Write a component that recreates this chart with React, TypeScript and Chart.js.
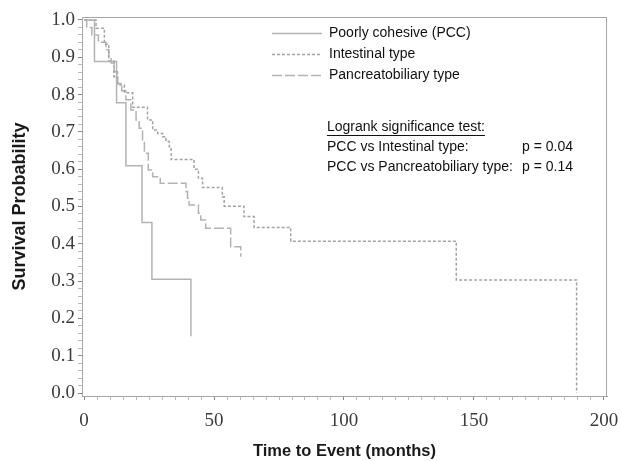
import React, { useEffect, useRef } from "react";
import { Chart, registerables } from "chart.js";

Chart.register(...registerables);

// ---- Data ----
const pccTime = [0, 4, 12.5, 16.1, 22.3, 26.1, 41.1];
const pccSurv = [1, 0.889, 0.778, 0.609, 0.457, 0.305, 0.152];

const intTime = [0, 4.6, 7.8, 9.5, 11.5, 12.9, 15.5, 18.7, 24.4, 26.4, 28.3, 30.2, 31.5, 32.8, 33.5, 42.3, 44.0, 45.6, 53.2, 53.9, 61.5, 65.4, 79.5, 143.2, 189.5];
const intSurv = [1, 0.978, 0.935, 0.89, 0.848, 0.826, 0.805, 0.766, 0.732, 0.705, 0.696, 0.687, 0.674, 0.66, 0.626, 0.6, 0.576, 0.551, 0.526, 0.501, 0.473, 0.444, 0.407, 0.303, 0];

const panTime = [0, 1, 3, 5.5, 8.4, 9.5, 10.4, 11.6, 12.9, 14.5, 16.1, 18, 20, 21.2, 22.5, 23.2, 24.7, 26.4, 29.3, 39.2, 39.8, 40.4, 44.0, 44.9, 46.8, 56.4, 60.3];
const panSurv = [1, 0.98, 0.96, 0.94, 0.92, 0.9, 0.885, 0.861, 0.83, 0.81, 0.786, 0.759, 0.732, 0.71, 0.678, 0.643, 0.598, 0.58, 0.562, 0.54, 0.522, 0.504, 0.482, 0.464, 0.442, 0.392, 0.365];

const seriesLabels = ["Poorly cohesive (PCC)", "Intestinal type", "Pancreatobiliary type"];

const xMajorTicks = [0, 50, 100, 150, 200];
const yMajorTicks = [0, 0.1, 0.2, 0.3, 0.4, 0.5, 0.6, 0.7, 0.8, 0.9, 1.0];
const xMinorStep = 5;
const yMinorStep = 0.02;

const xTitle = "Time to Event (months)";
const yTitle = "Survival Probability";
const testTitle = "Logrank significance test:";
const testNames = ["PCC vs Intestinal type:", "PCC vs Pancreatobiliary type:"];
const testPValues = ["p = 0.04", "p = 0.14"];

const toPoints = (t: number[], s: number[]) => t.map((v, i) => ({ x: v, y: s[i] }));

const makeTicks = (max: number, step: number) => {
  const out: { value: number }[] = [];
  const n = Math.round(max / step);
  for (let i = 0; i <= n; i++) out.push({ value: +(i * step).toFixed(4) });
  return out;
};

const isMajor = (v: number, majors: number[]) => majors.some((m) => Math.abs(m - v) < 1e-6);

const framePlugin = {
  id: "frame",
  afterDatasetsDraw(chart: any) {
    const { ctx, chartArea } = chart;
    ctx.save();
    ctx.strokeStyle = "#a6a6a6";
    ctx.lineWidth = 1;
    ctx.strokeRect(chartArea.left + 0.5, chartArea.top + 0.5, chartArea.right - chartArea.left - 1, chartArea.bottom - chartArea.top);
    ctx.restore();
  },
};

const legendPlugin = {
  id: "customLegend",
  afterDraw(chart: any) {
    const ctx = chart.ctx;
    ctx.save();
    const font = '14px "Liberation Sans", Arial, sans-serif';
    chart.data.datasets.forEach((ds: any, i: number) => {
      const y = 33 + i * 21;
      ctx.strokeStyle = ds.borderColor;
      ctx.lineWidth = ds.borderWidth;
      ctx.setLineDash(ds.borderDash || []);
      ctx.beginPath();
      ctx.moveTo(272, y + 0.5);
      ctx.lineTo(322, y + 0.5);
      ctx.stroke();
      ctx.setLineDash([]);
      ctx.fillStyle = "#111";
      ctx.font = font;
      ctx.textBaseline = "middle";
      ctx.textAlign = "left";
      ctx.fillText(ds.label, 329, y);
    });
    // logrank test block
    ctx.fillStyle = "#111";
    ctx.font = font;
    ctx.textBaseline = "middle";
    const ty = 127;
    ctx.fillText(testTitle, 327, ty);
    const w = ctx.measureText(testTitle).width;
    ctx.strokeStyle = "#111";
    ctx.lineWidth = 1;
    ctx.beginPath();
    ctx.moveTo(327, ty + 8.5);
    ctx.lineTo(327 + w, ty + 8.5);
    ctx.stroke();
    testNames.forEach((name, i) => {
      const y = ty + 20 + i * 20;
      ctx.fillText(name, 327, y);
      ctx.fillText(testPValues[i], 522, y);
    });
    ctx.restore();
  },
};

export default function App() {
  const ref = useRef<HTMLCanvasElement | null>(null);
  useEffect(() => {
    if (!ref.current) return;
    const chart = new Chart(ref.current, {
      type: "line",
      data: {
        datasets: [
          {
            label: seriesLabels[0],
            data: toPoints(pccTime, pccSurv),
            borderColor: "#b3b3b3",
            borderWidth: 1.5,
            stepped: "before",
            pointRadius: 0,
            fill: false,
          },
          {
            label: seriesLabels[1],
            data: toPoints(intTime, intSurv),
            borderColor: "#a3a3a3",
            borderWidth: 1.5,
            borderDash: [3, 2],
            stepped: "before",
            pointRadius: 0,
            fill: false,
          },
          {
            label: seriesLabels[2],
            data: toPoints(panTime, panSurv),
            borderColor: "#b3b3b3",
            borderWidth: 1.5,
            borderDash: [10, 3],
            stepped: "before",
            pointRadius: 0,
            fill: false,
          },
        ],
      },
      options: {
        animation: false,
        responsive: true,
        maintainAspectRatio: false,
        layout: { padding: { top: 17, right: 14, left: 0, bottom: 0 } },
        plugins: { legend: { display: false }, tooltip: { enabled: false } },
        scales: {
          x: {
            type: "linear",
            min: -0.8,
            max: 201.2,
            afterBuildTicks: (axis: any) => {
              axis.ticks = makeTicks(200, xMinorStep);
            },
            afterFit: (scale: any) => {
              scale.height = 65;
              scale.paddingLeft = 0;
              scale.paddingRight = 0;
            },
            ticks: {
              autoSkip: false,
              maxRotation: 0,
              padding: 10,
              color: "#3c3c3c",
              font: { family: '"Liberation Serif", "Times New Roman", serif', size: 19 },
              callback: (v: any) => (isMajor(Number(v), xMajorTicks) ? String(Math.round(Number(v))) : ""),
            },
            grid: {
              drawOnChartArea: false,
              drawTicks: true,
              tickLength: 4,
              tickColor: (c: any) => (c.tick && isMajor(c.tick.value, xMajorTicks) ? "#888" : "#bbb"),
            },
            border: { display: true, color: "#999" },
            title: {
              display: true,
              text: xTitle,
              color: "#1a1a1a",
              font: { family: '"Liberation Sans", Arial, sans-serif', size: 16.5, weight: "bold" },
              padding: { top: 0, bottom: 0 },
            },
          },
          y: {
            type: "linear",
            min: -0.008,
            max: 1.008,
            afterBuildTicks: (axis: any) => {
              axis.ticks = makeTicks(1, yMinorStep);
            },
            afterFit: (scale: any) => {
              scale.width = 82;
              scale.paddingTop = 0;
              scale.paddingBottom = 0;
            },
            ticks: {
              autoSkip: false,
              padding: 3,
              color: "#3c3c3c",
              font: { family: '"Liberation Serif", "Times New Roman", serif', size: 19 },
              callback: (v: any) => (isMajor(Number(v), yMajorTicks) ? Number(v).toFixed(1) : ""),
            },
            grid: {
              drawOnChartArea: false,
              drawTicks: true,
              tickLength: 4,
              tickColor: (c: any) => (c.tick && isMajor(c.tick.value, yMajorTicks) ? "#888" : "#bbb"),
            },
            border: { display: true, color: "#999" },
            title: {
              display: true,
              text: yTitle,
              color: "#1a1a1a",
              font: { family: '"Liberation Sans", Arial, sans-serif', size: 18, weight: "bold" },
              padding: { top: 9, bottom: 0 },
            },
          },
        },
      },
      plugins: [framePlugin, legendPlugin],
    } as any);
    return () => chart.destroy();
  }, []);

  return (
    <div style={{ position: "absolute", left: 0, top: 0, width: 621, height: 461, background: "#fff" }}>
      <canvas ref={ref} />
    </div>
  );
}
